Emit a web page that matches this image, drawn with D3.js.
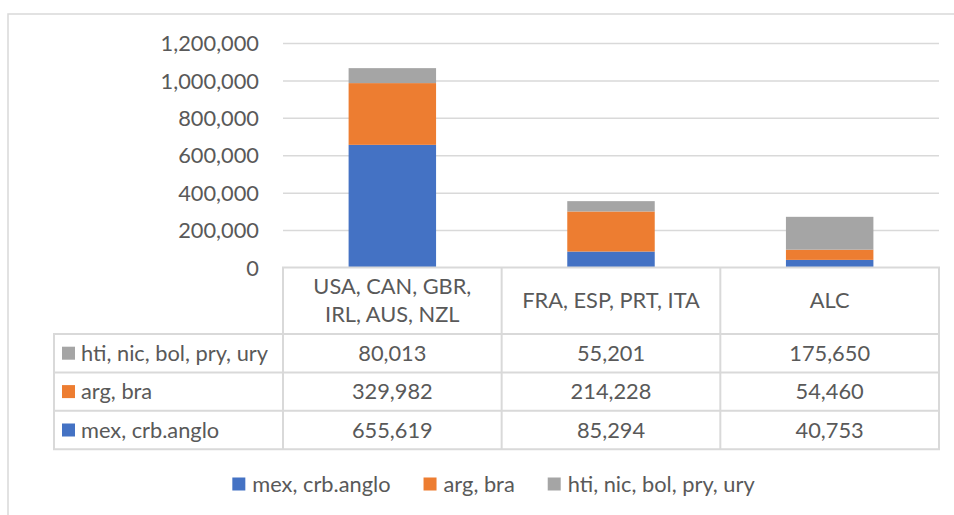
<!DOCTYPE html>
<html>
<head>
<meta charset="utf-8">
<script src="https://cdn.jsdelivr.net/npm/d3@7"></script>
<style>
  html, body { margin: 0; padding: 0; background: #fff; }
  svg { display: block; }
  text { font-family: Lato, "Open Sans", sans-serif; fill: #595959; }
</style>
</head>
<body>
<svg id="chart" width="954" height="515"></svg>
<script>
const categories = ["USA, CAN, GBR, IRL, AUS, NZL", "FRA, ESP, PRT, ITA", "ALC"];
const categoryLines = [["USA, CAN, GBR,", "IRL, AUS, NZL"], ["FRA, ESP, PRT, ITA"], ["ALC"]];
const seriesNames = ["mex, crb.anglo", "arg, bra", "hti, nic, bol, pry, ury"];
const mexCrb = [655619, 85294, 40753];
const argBra = [329982, 214228, 54460];
const htiEtc = [80013, 55201, 175650];
const yTicks = [0, 200000, 400000, 600000, 800000, 1000000, 1200000];
const colors = ["#4472C4", "#ED7D31", "#A5A5A5"];

const FS = 21.8;
const grid = "#d9d9d9";
const svg = d3.select("#chart");

// outer chart frame
svg.append("rect").attr("x", 8).attr("y", 14).attr("width", 1000).attr("height", 600)
  .attr("fill", "none").attr("stroke", grid).attr("stroke-width", 1.5);

const plotL = 283, plotR = 939, plotT = 43, plotB = 267.5;
const x = d3.scaleBand().domain(categories).range([plotL, plotR]).paddingInner(0).paddingOuter(0);
const y = d3.scaleLinear().domain([0, 1200000]).range([plotB, plotT]);

// gridlines
const gridAxis = d3.axisLeft(y).tickValues(yTicks.filter(d => d > 0)).tickSize(-(plotR - plotL)).tickFormat("");
const gg = svg.append("g").attr("transform", `translate(${plotL},0)`).call(gridAxis);
gg.select(".domain").remove();
gg.selectAll("line").attr("stroke", grid).attr("stroke-width", 1.5);

// y axis labels
const yAxis = d3.axisLeft(y).tickValues(yTicks).tickSize(0).tickPadding(24).tickFormat(d3.format(","));
const ya = svg.append("g").attr("transform", `translate(${plotL},0)`).call(yAxis);
ya.select(".domain").remove();
ya.selectAll("text").style("font-family", "Lato, sans-serif").style("font-size", FS + "px")
  .attr("fill", "#595959").attr("dy", "0.35em");

// stacked bars
const rows = categories.map((c, i) => ({cat: c, s0: mexCrb[i], s1: argBra[i], s2: htiEtc[i]}));
const stack = d3.stack().keys(["s0", "s1", "s2"])(rows);
const barW = x.bandwidth() * 0.4;
svg.append("g").selectAll("g").data(stack).join("g")
  .attr("fill", (d, i) => colors[i])
  .selectAll("rect").data(d => d).join("rect")
  .attr("x", d => x(d.data.cat) + (x.bandwidth() - barW) / 2)
  .attr("width", barW)
  .attr("y", d => y(d[1]))
  .attr("height", d => y(d[0]) - y(d[1]));

// data table
const tableL = 54, headB = 334, rowH = 38.4;
const tg = svg.append("g");
const hline = (x1, x2, yy) => tg.append("line").attr("x1", x1).attr("x2", x2).attr("y1", yy).attr("y2", yy)
  .attr("stroke", grid).attr("stroke-width", 2);
const vline = (xx, y1, y2) => tg.append("line").attr("x1", xx).attr("x2", xx).attr("y1", y1).attr("y2", y2)
  .attr("stroke", grid).attr("stroke-width", 2);
const tableB = headB + rowH * 3;
hline(plotL - 1, plotR + 1, plotB);
for (let r = 0; r <= 3; r++) hline(tableL - 1, plotR + 1, headB + r * rowH);
vline(tableL, headB, tableB);
categories.forEach(c => vline(x(c), plotB, tableB));
vline(plotR, plotB, tableB);

// header text
categories.forEach((c, i) => {
  const lines = categoryLines[i];
  const cy = (plotB + headB) / 2;
  const lh = 28;
  lines.forEach((ln, j) => {
    tg.append("text").attr("x", x(c) + x.bandwidth() / 2)
      .attr("y", cy + (j - (lines.length - 1) / 2) * lh)
      .attr("dy", "0.35em").attr("text-anchor", "middle")
      .style("font-size", FS + "px").text(ln);
  });
});

// rows: top to bottom = series reversed
const seriesVals = [mexCrb, argBra, htiEtc];
const fmt = d3.format(",");
[2, 1, 0].forEach((si, r) => {
  const cy = headB + r * rowH + rowH / 2;
  tg.append("rect").attr("x", 62).attr("y", cy - 6.5).attr("width", 13).attr("height", 13).attr("fill", colors[si]);
  tg.append("text").attr("x", 81).attr("y", cy).attr("dy", "0.35em").style("font-size", FS + "px").text(seriesNames[si]);
  categories.forEach((c, ci) => {
    tg.append("text").attr("x", x(c) + x.bandwidth() / 2).attr("y", cy).attr("dy", "0.35em")
      .attr("text-anchor", "middle").style("font-size", FS + "px").text(fmt(seriesVals[si][ci]));
  });
});

// legend
const lg = svg.append("g");
const legY = 484;
const items = seriesNames.map((n, i) => {
  const g = lg.append("g");
  g.append("rect").attr("x", 0).attr("y", legY - 6.5).attr("width", 13).attr("height", 13).attr("fill", colors[i]);
  const t = g.append("text").attr("x", 20).attr("y", legY).attr("dy", "0.35em").style("font-size", FS + "px").text(n);
  return {g, w: 20 + t.node().getComputedTextLength()};
});
const gap = 33;
const total = d3.sum(items, d => d.w) + gap * (items.length - 1);
let cx = 493.5 - total / 2;
items.forEach(it => { it.g.attr("transform", `translate(${cx},0)`); cx += it.w + gap; });
</script>
</body>
</html>
